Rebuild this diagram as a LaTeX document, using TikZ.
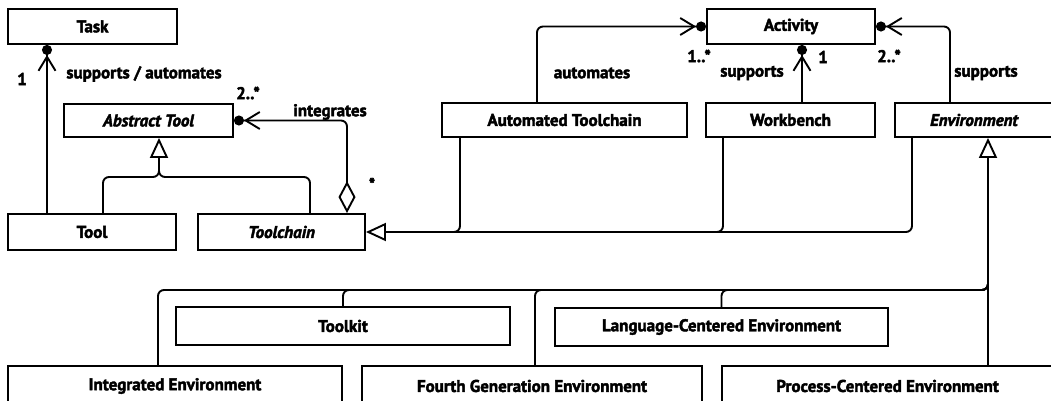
\documentclass[tikz,border=0pt]{standalone}
\usepackage{fontspec}
\setmainfont{PT Sans}[BoldFeatures={FakeBold=2.4}, BoldItalicFeatures={FakeBold=2.4}]
\usetikzlibrary{arrows.meta}
\begin{document}
\begin{tikzpicture}[x=1pt,y=-1pt,
  line width=1.9pt,
  cls/.style={draw, fill=white, inner sep=0pt, font=\fontsize{17}{20}\selectfont\bfseries},
  abstr/.style={cls, font=\fontsize{17}{20}\selectfont\bfseries\itshape},
  lbl/.style={inner sep=0pt, font=\fontsize{17}{20}\selectfont\bfseries},
  gen/.style={-{Triangle[open,length=20pt,width=18pt,line width=1.9pt]}},
  assoc/.style={-{Straight Barb[length=14pt,width=17pt,line width=1.9pt]Circle[length=10pt]}},
  aggr/.style={{Diamond[open,length=32pt,width=17pt,line width=1.9pt]}-{Straight Barb[length=14pt,width=17pt,line width=1.9pt]Circle[length=10pt]}},
  rnd/.style={rounded corners=6pt}]
\useasboundingbox (0,0) rectangle (1051,401);
\clip (0,0) rectangle (1051,401);

% classes, top row
\node[cls, minimum width=169pt, minimum height=35pt] (task) at (92.5,26.5) {Task};
\node[cls, minimum width=168pt, minimum height=35pt] (act) at (791,26.5) {Activity};
% second row
\node[abstr, minimum width=169pt, minimum height=33pt] (abs) at (148.5,120.5) {Abstract Tool};
\node[cls, minimum width=245pt, minimum height=34pt] (atc) at (564.5,120) {Automated Toolchain};
\node[cls, minimum width=169pt, minimum height=34pt] (wb) at (790.5,120) {Workbench};
\node[abstr, minimum width=158pt, minimum height=34pt] (env) at (974,120) {Environment};
% third row
\node[cls, minimum width=168pt, minimum height=36pt] (tool) at (92,232) {Tool};
\node[abstr, minimum width=167pt, minimum height=36pt] (tch) at (281.5,232) {Toolchain};
% environment kinds
\node[cls, minimum width=334pt, minimum height=38pt] (tk) at (343,326) {Toolkit};
\node[cls, minimum width=333pt, minimum height=38pt] (lce) at (721.5,327) {Language-Centered Environment};
\node[cls, minimum width=334pt, minimum height=40pt] (ie) at (175,386) {Integrated Environment};
\node[cls, minimum width=340pt, minimum height=40pt] (fge) at (532,386) {Fourth Generation Environment};
\node[cls, minimum width=331pt, minimum height=40pt] (pce) at (887.5,386) {Process-Centered Environment};

% junction points of the generalization trees
\coordinate (atj) at (159,177);
\coordinate (ej) at (988,290);

% Tool -- Task
\draw[assoc] ([xshift=-45pt]tool.north) -- ([xshift=-45pt]tool.north |- task.south);
\node[lbl] (l1) at (22,79) {1};
\node[lbl] (l2) at (144,74) {supports / automates};

% Abstract Tool hierarchy
\draw[gen, rnd] ([xshift=11pt]tool.north) |- (atj) -- (atj |- abs.south);
\draw[rnd] ([xshift=28.5pt]tch.north) |- (atj) -- ++(0,-12);

% Toolchain integrates Abstract Tool
\draw[aggr, rnd] ([xshift=65.5pt]tch.north) |- (abs.east);
\node[lbl] (l3) at (248,93) {2..*};
\node[lbl] (l4) at (330,112) {integrates};
\node[lbl] (l5) at (372,184) {*};

% Toolchain hierarchy
\draw[gen, rnd] ([xshift=-62pt]env.south) |- (tch.east);
\draw[rnd] ([xshift=-104.5pt]atc.south) |- ([xshift=20pt]tch.east);
\draw[rnd] ([xshift=-67.5pt]wb.south) |- ([xshift=20pt]tch.east);

% associations to Activity
\draw[assoc, rnd] ([xshift=-27.5pt]atc.north) |- (act.west);
\node[lbl] (l6) at (592,73) {automates};
\node[lbl] (l7) at (699,56) {1..*};
\draw[assoc] ([xshift=11.5pt]wb.north) -- ([xshift=11.5pt]wb.north |- act.south);
\node[lbl] (l8) at (752,73) {supports};
\node[lbl] (l9) at (823,57) {1};
\draw[assoc, rnd] ([xshift=-24pt]env.north) |- (act.east);
\node[lbl] (l10) at (889,56) {2..*};
\node[lbl] (l11) at (986,73) {supports};

% Environment hierarchy
\draw[gen] ([xshift=14pt]env.south |- pce.north) -- ([xshift=14pt]env.south);
\draw[rnd] ([xshift=-17pt]ie.north) |- (ej) -- ++(0,-12);
\draw[rnd] (tk.north) |- (ej) -- ++(0,-12);
\draw[rnd] ([xshift=3pt]fge.north) |- (ej) -- ++(0,-12);
\draw[rnd] (lce.north) |- (ej) -- ++(0,-12);
\end{tikzpicture}
\end{document}
